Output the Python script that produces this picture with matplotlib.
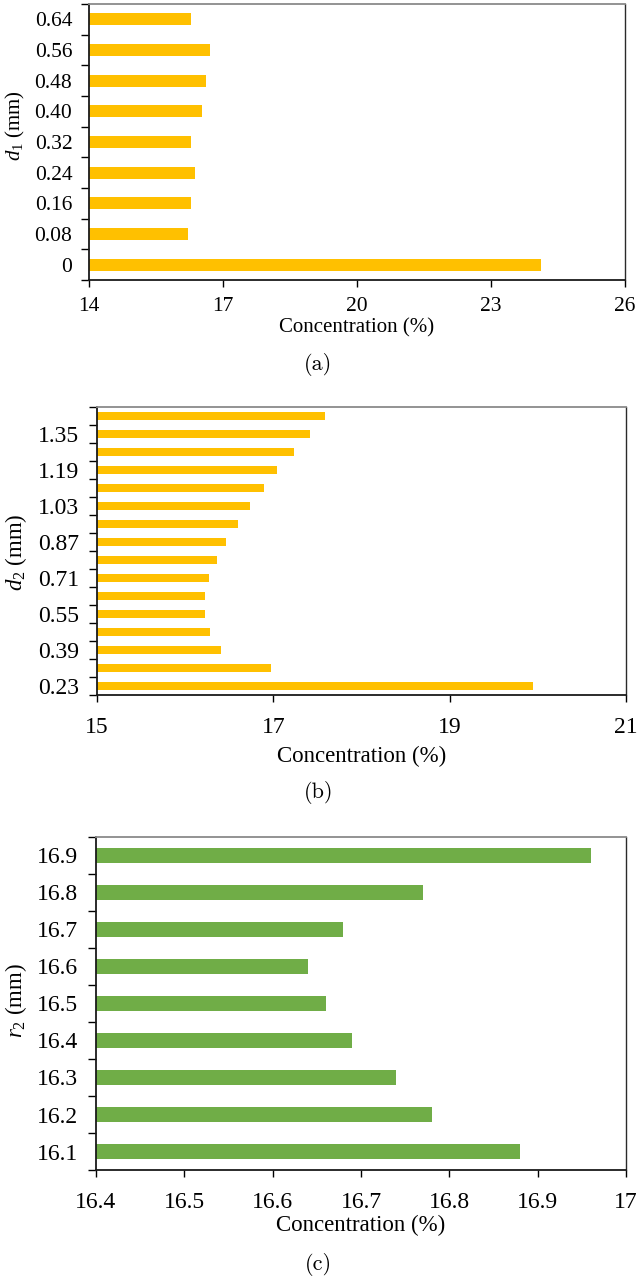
import matplotlib
matplotlib.use("Agg")
import matplotlib.pyplot as plt
import numpy as np

# ===========================================
# data
# ===========================================

d1_labels = ["0", "0.08", "0.16", "0.24", "0.32", "0.40", "0.48", "0.56", "0.64"]
d1_conc = [24.12, 16.22, 16.29, 16.38, 16.29, 16.54, 16.63, 16.71, 16.29]
d1_xticks = [14, 17, 20, 23, 26]

d2_labels = ["0.23", "0.31", "0.39", "0.47", "0.55", "0.63", "0.71", "0.79",
             "0.87", "0.95", "1.03", "1.11", "1.19", "1.27", "1.35", "1.43"]
d2_conc = [19.95, 16.97, 16.41, 16.28, 16.22, 16.22, 16.27, 16.36,
           16.46, 16.60, 16.74, 16.89, 17.04, 17.23, 17.41, 17.59]
d2_xticks = [15, 17, 19, 21]

r2_labels = ["16.1", "16.2", "16.3", "16.4", "16.5", "16.6", "16.7", "16.8", "16.9"]
r2_conc = [16.88, 16.78, 16.74, 16.69, 16.66, 16.64, 16.68, 16.77, 16.96]
r2_xticks = [16.4, 16.5, 16.6, 16.7, 16.8, 16.9, 17.0]
r2_xticklabels = ["16.4", "16.5", "16.6", "16.7", "16.8", "16.9", "17"]

plt.rcParams["font.family"] = ["Liberation Serif", "DejaVu Serif"]
plt.rcParams["mathtext.fontset"] = "custom"
plt.rcParams["mathtext.rm"] = "Liberation Serif"
plt.rcParams["mathtext.it"] = "Liberation Serif:italic"

YELLOW = "#FFC000"
GREEN = "#70AD47"


def draw_panel(fig, rect, labels, conc, xticks, xticklabels, color, ylabel,
               label_step, fs_tick, fs_label, ylab_xy, xlab_y, xpad, ypad):
    ax = fig.add_axes(rect)
    n = len(labels)
    pos = np.arange(n)
    # bars start at the left axis limit (Excel style)
    base = xticks[0]
    ax.barh(pos, np.array(conc) - base, left=base, height=0.4, color=color, edgecolor="none")
    ax.set_xlim(xticks[0], xticks[-1])
    ax.set_ylim(-0.5, n - 0.5)

    # major ticks on category boundaries, labels on the centres
    ax.set_yticks(np.arange(n + 1) - 0.5)
    ax.set_yticklabels([])
    ax.set_yticks(pos[::label_step], minor=True)
    ax.set_yticklabels(labels[::label_step], minor=True, fontsize=fs_tick)
    ax.tick_params(axis="y", which="major", direction="out", length=6, width=1)
    ax.tick_params(axis="y", which="minor", length=0, pad=ypad)

    ax.set_xticks(xticks)
    ax.set_xticklabels(xticklabels, fontsize=fs_tick)
    ax.tick_params(axis="x", direction="out", length=5, width=1, pad=xpad)

    for s in ["left", "bottom"]:
        ax.spines[s].set_color("#1a1a1a")
        ax.spines[s].set_linewidth(1.3)
    ax.spines["top"].set_color("#8a8a8a")
    ax.spines["top"].set_linewidth(1.3)
    ax.spines["right"].set_color("#2a2a2a")
    ax.spines["right"].set_linewidth(1.0)

    ax.set_xlabel("Concentration (%)", fontsize=fs_label)
    ax.xaxis.label.set_va("center")
    ax.xaxis.set_label_coords(0.5, xlab_y)
    ax.set_ylabel(ylabel, fontsize=fs_label)
    ax.yaxis.label.set_va("center")
    ax.yaxis.set_label_coords(*ylab_xy)
    return ax


fig = plt.figure(figsize=(6.37, 12.78), dpi=100)

draw_panel(fig, [0.1397, 0.7809, 0.8414, 0.2160], d1_labels, d1_conc,
           d1_xticks, [str(v) for v in d1_xticks], YELLOW, r"$d_1$ (mm)",
           1, 15.5, 15, (-0.138, 0.56), -0.174, 7, 12)

draw_panel(fig, [0.1523, 0.4562, 0.8305, 0.2254], d2_labels, d2_conc,
           d2_xticks, [str(v) for v in d2_xticks], YELLOW, r"$d_2$ (mm)",
           2, 17, 16.5, (-0.153, 0.497), -0.215, 11, 13)

draw_panel(fig, [0.1507, 0.0845, 0.8320, 0.2606], r2_labels, r2_conc,
           r2_xticks, r2_xticklabels, GREEN, r"$r_2$ (mm)",
           1, 17, 16.5, (-0.151, 0.51), -0.165, 11, 13)

# sub-figure captions
for txt, y in [("(a)", 0.7144), ("(b)", 0.3795), ("(c)", 0.0102)]:
    fig.text(0.5, y, txt, ha="center", va="center", fontsize=16, family="cmr10")

fig.savefig("out.png", dpi=100)
